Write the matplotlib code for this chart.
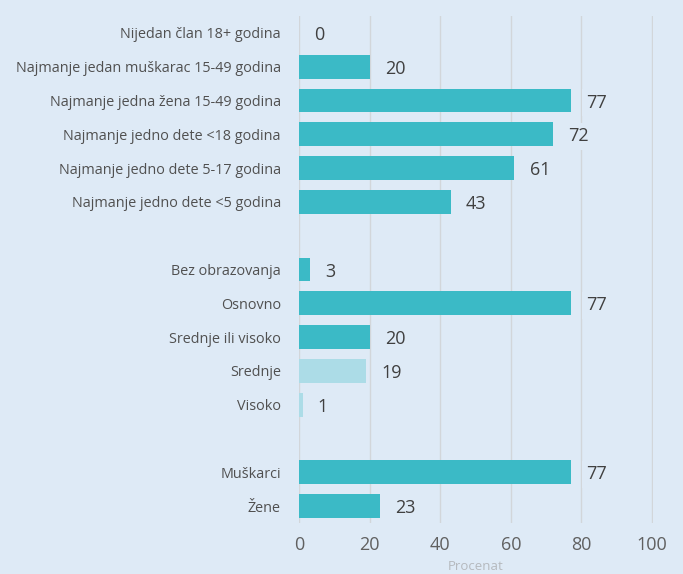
import matplotlib.pyplot as plt
import numpy as np

# row labels top to bottom, blank slots separate the groups
labels = [
    "Nijedan član 18+ godina",
    "Najmanje jedan muškarac 15-49 godina",
    "Najmanje jedna žena 15-49 godina",
    "Najmanje jedno dete <18 godina",
    "Najmanje jedno dete 5-17 godina",
    "Najmanje jedno dete <5 godina",
    "",
    "Bez obrazovanja",
    "Osnovno",
    "Srednje ili visoko",
    "Srednje",
    "Visoko",
    "",
    "Muškarci",
    "Žene",
]
values = [0, 20, 77, 72, 61, 43, None, 3, 77, 20, 19, 1, None, 77, 23]
light = [False] * 10 + [True, True] + [False] * 3

bg = "#deeaf6"
teal = "#3bbac6"
pale = "#acdce7"
grid = "#d2d6da"

plt.rcParams['font.family'] = ['Open Sans', 'DejaVu Sans']

fig = plt.figure(figsize=(6.83, 5.74), dpi=100, facecolor=bg)
ax = fig.add_axes([299 / 683, 1 - 523 / 574, (653 - 299) / 683, (523 - 16) / 574])
ax.set_facecolor(bg)

y = np.arange(len(labels))
for yi, v, lt in zip(y, values, light):
    if v is None:
        continue
    ax.barh(yi, v, height=0.7, color=pale if lt else teal, zorder=2)
    ax.annotate(str(v), (v, yi), xytext=(11, -1.5), textcoords="offset points",
                va="center", ha="left", fontsize=13, color="#404040", zorder=4,
                bbox=dict(boxstyle="square,pad=0.25", fc=bg, ec="none"))

ax.set_xlim(0, 100.3)
ax.set_ylim(len(labels) - 0.5, -0.5)
ax.set_xticks([0, 20, 40, 60, 80, 100])
ax.set_yticks(y)
ax.set_yticklabels(labels)
ax.tick_params(axis="y", length=0, pad=13, labelsize=10.4, labelcolor="#505050")
ax.tick_params(axis="x", length=0, pad=9, labelsize=13, labelcolor="#606060")
ax.xaxis.grid(True, color=grid, linewidth=1, zorder=0)
ax.set_axisbelow(True)
for s in ax.spines.values():
    s.set_visible(False)
ax.set_xlabel("Procenat", fontsize=9.5, color="#b5b9be", labelpad=5)

fig.savefig("out.png", dpi=100, facecolor=bg)
